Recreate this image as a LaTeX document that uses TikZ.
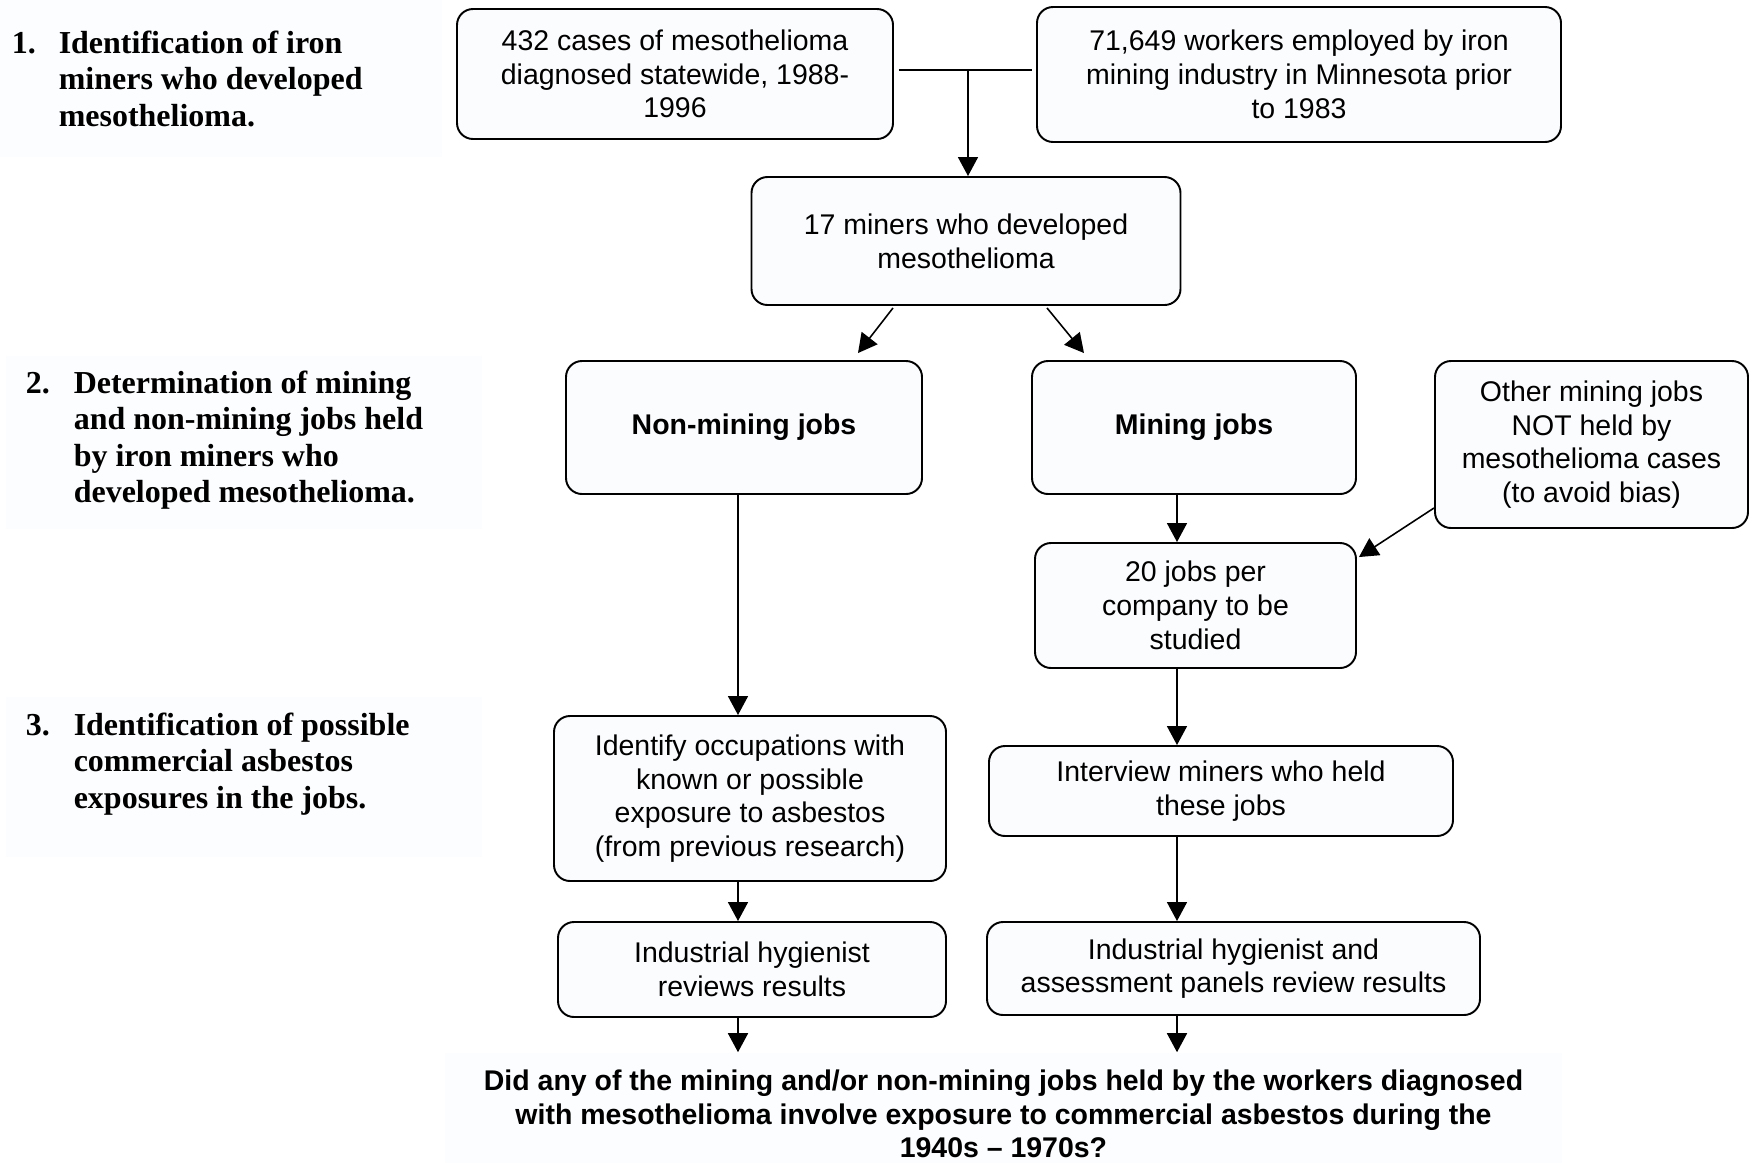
\documentclass[tikz,border=0pt]{standalone}
\usepackage{fontspec}
\setmainfont{Liberation Sans}
\newfontfamily\stagefont{Liberation Serif}
\usepackage{tikz}
\usetikzlibrary{arrows.meta}
\usetikzlibrary{calc}
\definecolor{boxfill}{RGB}{251,252,254}
\definecolor{panelfill}{RGB}{252,253,254}
\newcommand{\boxfont}{\fontsize{8.1}{9.6}\selectfont}
\newcommand{\stagetext}{\stagefont\bfseries\fontsize{9.1}{10.4}\selectfont}

\begin{document}
\begin{tikzpicture}[->,>={Triangle[length=1.9mm,width=2mm]},x=0.1mm,y=-0.1mm,
  line width=0.45pt,
  box/.style={rectangle,rounded corners=1.6mm,draw,line width=0.55pt,fill=boxfill,
    align=center,inner sep=0pt,font=\boxfont},
  stage/.style={anchor=base west,inner sep=0pt,font=\stagetext}]

  \useasboundingbox (0,0) rectangle (1756,1162);

  % faint panels behind the stage texts
  \fill[panelfill,-] (0,0) rectangle (442,157);
  \fill[panelfill,-] (6,356) rectangle (482,529);
  \fill[panelfill,-] (6,697) rectangle (482,857);

  \node[stage] (stage1) at (11,53) {\begin{tabular}[t]{@{}p{4.7mm}@{}l@{}}1. & Identification of iron\\ & miners who developed\\ & mesothelioma.\end{tabular}};
  \node[stage] (stage2) at (25,393) {\begin{tabular}[t]{@{}p{4.8mm}@{}l@{}}2. & Determination of mining\\ & and non-mining jobs held\\ & by iron miners who\\ & developed mesothelioma.\end{tabular}};
  \node[stage] (stage3) at (25,735) {\begin{tabular}[t]{@{}p{4.8mm}@{}l@{}}3. & Identification of possible\\ & commercial asbestos\\ & exposures in the jobs.\end{tabular}};

  \node[box,minimum width=43.6mm,minimum height=13mm] (cases) at (675,74) {432 cases of mesothelioma\\diagnosed statewide, 1988-\\1996};
  \node[box,minimum width=52.4mm,minimum height=13.5mm] (workers) at (1299,74.5) {71,649 workers employed by iron\\mining industry in Minnesota prior\\to 1983};
  \node[box,minimum width=42.9mm,minimum height=12.8mm] (miners) at (966,241) {17 miners who developed\\mesothelioma};
  \node[box,minimum width=35.6mm,minimum height=13.3mm,font=\boxfont\bfseries] (nonmining) at (744,427.5) {Non-mining jobs};
  \node[box,minimum width=32.4mm,minimum height=13.3mm,font=\boxfont\bfseries] (mining) at (1194,427.5) {Mining jobs};
  \node[box,minimum width=31.3mm,minimum height=16.7mm] (other) at (1591.5,444.5) {Other mining jobs\\NOT held by\\mesothelioma cases\\(to avoid bias)};
  \node[box,minimum width=32.1mm,minimum height=12.5mm] (twenty) at (1195.5,605.5) {20 jobs per\\company to be\\studied};
  \node[box,minimum width=39.2mm,minimum height=16.5mm] (identify) at (750,798.5) {Identify occupations with\\known or possible\\exposure to asbestos\\(from previous research)};
  \node[box,minimum width=46.4mm,minimum height=9mm] (interview) at (1221,791) {Interview miners who held\\these jobs};
  \node[box,minimum width=38.8mm,minimum height=9.5mm] (hygleft) at (752,969.5) {Industrial hygienist\\reviews results};
  \node[box,minimum width=49.3mm,minimum height=9.3mm] (hygright) at (1233.5,968.5) {Industrial hygienist and\\assessment panels review results};
  \node[fill=panelfill,minimum width=111.7mm,minimum height=12.2mm,align=center,inner sep=0pt,
    font=\boxfont\bfseries] (question) at (1003.5,1114) {Did any of the mining and/or non-mining jobs held by the workers diagnosed\\with mesothelioma involve exposure to commercial asbestos during the\\1940s -- 1970s?};

  \coordinate (join) at (968,70);
  \coordinate (leftcol) at (738,0);
  \coordinate (rightcol) at (1177,0);

  \draw[-] ($(cases.east |- join)+(5,0)$) -- ($(workers.west |- join)+(-4,0)$);
  \draw (join) -- (join |- miners.north);
  \draw ($(miners.south)+(-73,2)$) -- ($(nonmining.north)+(114,-7)$);
  \draw ($(miners.south)+(81,2)$) -- ($(mining.north)+(-110,-7)$);
  \draw (mining.south -| rightcol) -- (twenty.north -| rightcol);
  \draw ($(other.south west)+(0,-21)$) -- ($(twenty.north east)+(2,15)$);
  \draw (twenty.south -| rightcol) -- (interview.north -| rightcol);
  \draw (interview.south -| rightcol) -- (hygright.north -| rightcol);
  \draw (hygright.south -| rightcol) -- (question.north -| rightcol);
  \draw (nonmining.south -| leftcol) -- (identify.north -| leftcol);
  \draw (identify.south -| leftcol) -- (hygleft.north -| leftcol);
  \draw (hygleft.south -| leftcol) -- (question.north -| leftcol);
\end{tikzpicture}
\end{document}
